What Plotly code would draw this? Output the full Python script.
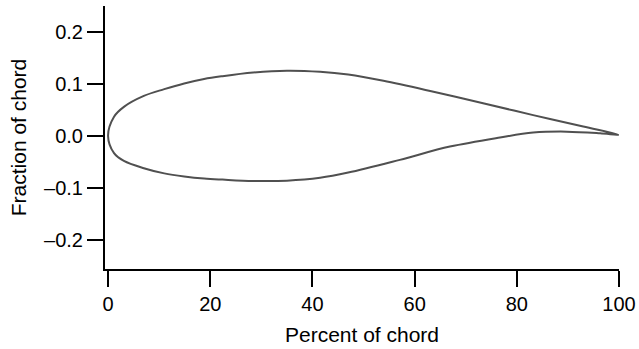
import plotly.graph_objects as go

# airfoil outline: trailing edge -> upper -> leading edge -> lower -> trailing edge
upper_x = [100, 93.0, 83.2, 73.4, 63.7, 53.9, 47.0, 41.5, 35.0, 28.4, 22.4, 18.8, 14.9, 11.0, 7.0, 3.1, 1.17, 0]
upper_y = [0.002, 0.018, 0.040, 0.063, 0.085, 0.106, 0.118, 0.1235, 0.1256, 0.122, 0.115, 0.1096, 0.101, 0.090, 0.077, 0.056, 0.037, 0]
lower_x = [1.17, 3.1, 7.0, 11.0, 14.9, 18.8, 22.4, 28.4, 35.0, 41.5, 47.0, 57.1, 66.9, 76.7, 83.2, 89.8, 96.3, 100]
lower_y = [-0.033, -0.048, -0.062, -0.072, -0.078, -0.082, -0.084, -0.0865, -0.086, -0.0805, -0.0705, -0.046, -0.0205, -0.003, 0.0064, 0.0083, 0.005, 0.002]

x_ticks = [0, 20, 40, 60, 80, 100]
y_ticks = [-0.2, -0.1, 0.0, 0.1, 0.2]
y_labels = ["–0.2", "–0.1", "0.0", "0.1", "0.2"]

fig = go.Figure()
fig.add_trace(go.Scatter(
    x=upper_x + lower_x, y=upper_y + lower_y,
    mode="lines", line=dict(color="#505050", width=2, shape="spline", smoothing=1),
    hoverinfo="skip", showlegend=False,
))

font = dict(family="Liberation Sans, Arial, sans-serif", size=20, color="black")
axis = dict(showline=True, linecolor="black", linewidth=2, ticks="outside", ticklen=16,
            tickwidth=2, tickcolor="black", showgrid=False, zeroline=False, tickfont=font)

fig.update_xaxes(axis, range=[-0.6, 100], tickvals=x_ticks,
                 title=dict(text="Percent of chord", font=dict(font, size=21), standoff=13))
fig.update_yaxes(axis, range=[-0.256, 0.25], tickvals=y_ticks, ticktext=y_labels,
                 title=dict(text="Fraction of chord", font=dict(font, size=21), standoff=12))

fig.update_layout(
    width=639, height=349,
    margin=dict(l=105, r=20, t=6, b=80, autoexpand=False),
    plot_bgcolor="white", paper_bgcolor="white",
    font=font,
)

fig.write_html("out.html", config={"displayModeBar": False},
               post_script="document.body.style.margin='0';document.body.style.overflow='hidden';")
